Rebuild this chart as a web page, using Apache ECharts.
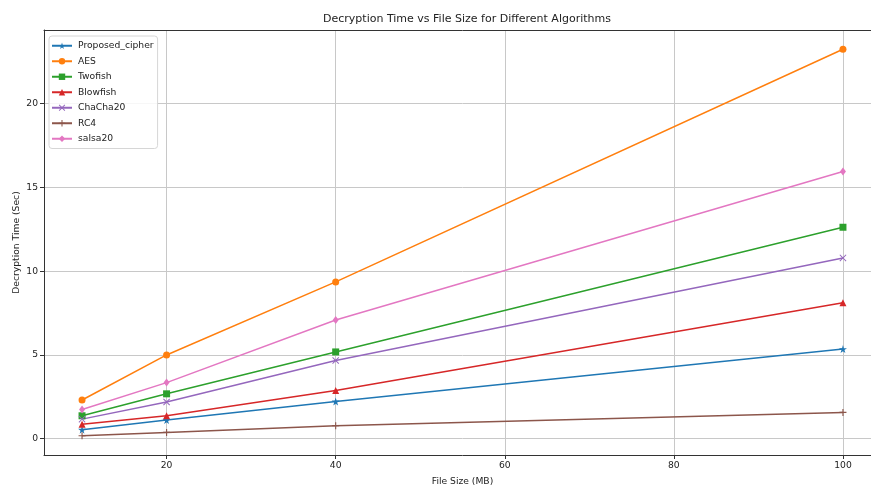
<!DOCTYPE html>
<html><head><meta charset="utf-8">
<script src="https://cdn.jsdelivr.net/npm/echarts@6/dist/echarts.min.js"></script>
<style>html,body{margin:0;padding:0;background:#fff;overflow:hidden;width:871px;height:487px}#c{width:881px;height:487px}</style>
</head><body><div id="c"></div>
<script>
const fileSizes = [10, 20, 40, 100];
const seriesNames = ['Proposed_cipher', 'AES', 'Twofish', 'Blowfish', 'ChaCha20', 'RC4', 'salsa20'];
const proposedCipher = [0.54, 1.12, 2.22, 5.35];
const aes = [2.31, 5.00, 9.36, 23.24];
const twofish = [1.37, 2.68, 5.18, 12.62];
const blowfish = [0.86, 1.37, 2.88, 8.12];
const chacha20 = [1.17, 2.19, 4.67, 10.79];
const rc4 = [0.18, 0.38, 0.78, 1.57];
const salsa20 = [1.75, 3.35, 7.09, 15.95];
const xTicks = [20, 40, 60, 80, 100];
const yTicks = [0, 5, 10, 15, 20];

const values = [proposedCipher, aes, twofish, blowfish, chacha20, rc4, salsa20];
const colors = ['#1f77b4', '#ff7f0e', '#2ca02c', '#d62728', '#9467bd', '#8c564b', '#e377c2'];
const symbols = [
  'path://M50,0L61,35L98,35L68,57L79,91L50,70L21,91L32,57L2,35L39,35Z',
  'circle',
  'rect',
  'triangle',
  'path://M1,0L5,4L9,0L10,1L6,5L10,9L9,10L5,6L1,10L0,9L4,5L0,1Z',
  'path://M4.2,0H5.8V4.2H10V5.8H5.8V10H4.2V5.8H0V4.2H4.2Z',
  'diamond'
];
const symbolSizes = [8, 7, 7, 7, 7, 7, [6, 8]];
const xMin = 5.5, xMax = 104.5, yMin = -0.97, yMax = 24.39;

const chart = echarts.init(document.getElementById('c'), null, {renderer: 'canvas'});
const font = 'DejaVu Sans';
const fs = 9.2;
const spine = '#333';
chart.setOption({
  animation: false,
  textStyle: {fontFamily: font},
  title: {
    text: 'Decryption Time vs File Size for Different Algorithms',
    left: 462, top: 9, textAlign: 'center',
    textStyle: {fontFamily: font, fontSize: 11, fontWeight: 'normal', color: '#222'}
  },
  grid: {left: 44, top: 30, right: 0, bottom: 32, show: false, containLabel: false, outerBoundsMode: 'none'},
  legend: {
    left: 49, top: 36, orient: 'vertical',
    data: seriesNames,
    itemWidth: 20, itemHeight: 8, itemGap: 4,
    padding: [4, 4, 4, 2],
    borderColor: '#d6d6d6', borderWidth: 1, borderRadius: 3,
    backgroundColor: 'rgba(255,255,255,0.85)',
    textStyle: {fontFamily: font, fontSize: fs, color: '#222', lineHeight: 11.5, padding: [0, 0, 0, 1]}
  },
  xAxis: [{
    type: 'value', min: xMin, max: xMax,
    name: 'File Size (MB)', nameLocation: 'middle', nameGap: 22, nameMoveOverlap: false,
    nameTextStyle: {fontFamily: font, fontSize: fs, color: '#222'},
    axisLine: {show: true, onZero: false, lineStyle: {color: spine}},
    axisTick: {show: true, length: 4, customValues: xTicks, lineStyle: {color: spine}},
    axisLabel: {customValues: xTicks, fontFamily: font, fontSize: fs, color: '#222', margin: 6},
    splitLine: {show: true, lineStyle: {color: '#c8c8c8', width: 1}}
  }, {
    type: 'value', position: 'top', min: xMin, max: xMax,
    axisLine: {show: true, onZero: false, lineStyle: {color: spine}},
    axisTick: {show: false}, axisLabel: {show: false}, splitLine: {show: false}
  }],
  yAxis: {
    type: 'value', min: yMin, max: yMax,
    name: 'Decryption Time (Sec)', nameLocation: 'middle', nameGap: 23, nameMoveOverlap: false,
    nameTextStyle: {fontFamily: font, fontSize: fs, color: '#222'},
    axisLine: {show: true, onZero: false, lineStyle: {color: spine}},
    axisTick: {show: true, length: 4, customValues: yTicks, lineStyle: {color: spine}},
    axisLabel: {customValues: yTicks, fontFamily: font, fontSize: fs, color: '#222', margin: 6},
    splitLine: {show: true, lineStyle: {color: '#c8c8c8', width: 1}}
  },
  series: seriesNames.map((name, i) => ({
    name: name,
    type: 'line',
    xAxisIndex: 0,
    data: fileSizes.map((x, j) => [x, values[i][j]]),
    symbol: symbols[i],
    symbolSize: symbolSizes[i],
    showAllSymbol: true,
    lineStyle: {color: colors[i], width: 1.5},
    itemStyle: {color: colors[i]},
    emphasis: {disabled: true}
  }))
});
</script></body></html>
